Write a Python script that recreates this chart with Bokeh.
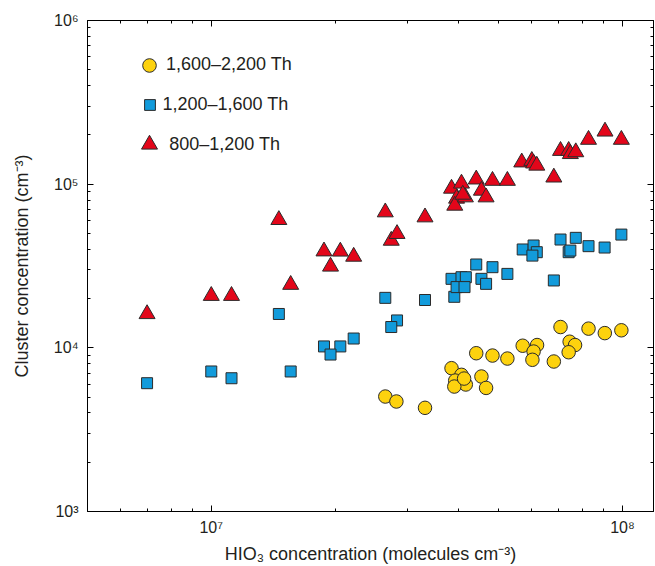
from bokeh.plotting import figure
from bokeh.models import (LogAxis, Legend, LegendItem, CustomJSTickFormatter, Range1d,
                          FixedTicker)
from bokeh.embed import file_html
from bokeh.resources import INLINE

# ---- data ----
circ_x = [2.65e7, 2.82e7, 3.31e7, 3.84e7, 4.06e7, 3.92e7, 4.16e7, 3.90e7, 4.54e7, 4.66e7,
          4.41e7, 4.83e7, 5.25e7, 5.72e7, 6.20e7, 6.08e7, 6.04e7, 6.81e7, 7.07e7, 7.44e7,
          7.67e7, 7.40e7, 8.27e7, 9.06e7, 9.94e7, 4.12e7]
circ_y = [5.04e3, 4.70e3, 4.30e3, 7.51e3, 6.84e3, 6.31e3, 5.97e3, 5.80e3, 6.68e3, 5.69e3,
          9.27e3, 8.97e3, 8.60e3, 1.03e4, 1.04e4, 9.49e3, 8.45e3, 8.25e3, 1.34e4, 1.09e4,
          1.04e4, 9.40e3, 1.31e4, 1.23e4, 1.28e4, 6.49e3]

sq_x = [6.98e6, 1.00e7, 1.12e7, 1.46e7, 1.56e7, 1.88e7, 2.06e7, 1.95e7, 2.22e7, 2.65e7,
        2.83e7, 2.74e7, 3.31e7, 3.90e7, 3.84e7, 4.06e7, 4.16e7, 3.95e7, 4.13e7, 4.41e7,
        4.54e7, 4.66e7, 4.83e7, 5.25e7, 5.72e7, 6.08e7, 6.19e7, 6.04e7, 6.81e7, 7.07e7,
        7.70e7, 7.40e7, 7.47e7, 8.27e7, 9.05e7, 9.94e7]
sq_y = [6.08e3, 7.17e3, 6.52e3, 1.61e4, 7.17e3, 1.02e4, 1.02e4, 9.10e3, 1.14e4, 2.02e4,
        1.47e4, 1.34e4, 1.96e4, 2.05e4, 2.64e4, 2.70e4, 2.70e4, 2.35e4, 2.35e4, 3.23e4,
        2.64e4, 2.46e4, 3.11e4, 2.83e4, 3.99e4, 4.22e4, 3.84e4, 3.66e4, 2.58e4, 4.59e4,
        4.70e4, 3.84e4, 3.93e4, 4.18e4, 4.10e4, 4.92e4]

tri_x = [6.98e6, 1.00e7, 1.12e7, 1.46e7, 1.56e7, 1.88e7, 2.06e7, 1.95e7, 2.22e7, 2.65e7,
         2.74e7, 2.83e7, 3.31e7, 3.84e7, 4.06e7, 3.95e7, 3.91e7, 4.15e7, 4.09e7, 4.41e7,
         4.54e7, 4.66e7, 4.83e7, 5.25e7, 5.69e7, 6.02e7, 6.08e7, 6.19e7, 6.81e7, 7.07e7,
         7.40e7, 7.47e7, 7.70e7, 8.27e7, 9.07e7, 9.94e7]
tri_y = [1.61e4, 2.08e4, 2.08e4, 6.05e4, 2.43e4, 3.89e4, 3.88e4, 3.14e4, 3.61e4, 6.74e4,
         4.52e4, 4.97e4, 6.28e4, 9.40e4, 1.01e5, 8.17e4, 7.40e4, 8.32e4, 8.64e4, 1.07e5,
         9.14e4, 8.32e4, 1.05e5, 1.05e5, 1.36e5, 1.39e5, 1.34e5, 1.30e5, 1.10e5, 1.60e5,
         1.60e5, 1.53e5, 1.57e5, 1.87e5, 2.10e5, 1.87e5]

labels = ["1,600\u20132,200 Th", "1,200\u20131,600 Th", "800\u20131,200 Th"]
x_label = "HIO\u2083 concentration (molecules cm\u207b\u00b3)"
y_label = "Cluster concentration (cm\u207b\u00b3)"

x_major = [1e7, 1e8]
x_minor = [6e6, 7e6, 8e6, 9e6, 2e7, 3e7, 4e7, 5e7, 6e7, 7e7, 8e7, 9e7]
y_major = [1e3, 1e4, 1e5, 1e6]
y_minor = [2e3, 3e3, 4e3, 5e3, 6e3, 7e3, 8e3, 9e3,
           2e4, 3e4, 4e4, 5e4, 6e4, 7e4, 8e4, 9e4,
           2e5, 3e5, 4e5, 5e5, 6e5, 7e5, 8e5, 9e5]

FONT = "Liberation Sans"
YELLOW = "#FDD20E"
BLUE = "#129BDB"
RED = "#E3061A"
EDGE = "#2b2b2b"
TEXT = "#231F20"

p = figure(width=655, height=566, x_axis_type="log", y_axis_type="log",
           x_range=Range1d(5e6, 1.19e8), y_range=Range1d(1e3, 1e6),
           output_backend="svg", toolbar_location=None,
           min_border_left=87, min_border_top=20, min_border_right=2, min_border_bottom=55)
p.xgrid.visible = False
p.ygrid.visible = False
p.outline_line_color = "black"
p.outline_line_width = 1
p.background_fill_color = "white"
p.border_fill_color = "white"

fmt_code = """
const sup = {"0":"\u2070","1":"\u00b9","2":"\u00b2","3":"\u00b3","4":"\u2074","5":"\u2075","6":"\u2076","7":"\u2077","8":"\u2078","9":"\u2079","-":"\u207b"};
const e = Math.round(Math.log10(tick));
return "10" + String(e).split("").map(c => sup[c]).join("");
"""

xt = FixedTicker(ticks=x_major, minor_ticks=x_minor)
yt = FixedTicker(ticks=y_major, minor_ticks=y_minor)

def style_axis(ax, ticker, labels_on=True):
    ax.ticker = ticker
    ax.axis_line_color = "black"
    ax.major_tick_line_color = "black"
    ax.minor_tick_line_color = "black"
    ax.major_tick_in = 6
    ax.major_tick_out = 0
    ax.minor_tick_in = 3
    ax.minor_tick_out = 0
    if labels_on:
        ax.formatter = CustomJSTickFormatter(code=fmt_code)
        ax.major_label_text_font = FONT
        ax.major_label_text_font_size = "16px"
        ax.major_label_text_color = TEXT
        ax.axis_label_text_font = FONT
        ax.axis_label_text_font_size = "18px"
        ax.axis_label_text_font_style = "normal"
        ax.axis_label_text_color = TEXT
    else:
        ax.formatter = CustomJSTickFormatter(code="return ''")
        ax.major_label_text_font_size = "0px"
        ax.major_label_standoff = 0

style_axis(p.xaxis[0], xt)
style_axis(p.yaxis[0], yt)
p.xaxis[0].axis_label = x_label
p.yaxis[0].axis_label = y_label
p.xaxis[0].major_label_standoff = 7
p.yaxis[0].major_label_standoff = 9
p.xaxis[0].axis_label_standoff = 5
p.yaxis[0].axis_label_standoff = 19

top = LogAxis()
right = LogAxis()
style_axis(top, xt, False)
style_axis(right, yt, False)
p.add_layout(top, "above")
p.add_layout(right, "right")

r_tri = p.scatter(tri_x, tri_y, marker="triangle", size=16, fill_color=RED,
                  line_color=EDGE, line_width=1)
r_sq = p.scatter(sq_x, sq_y, marker="square", size=11, fill_color=BLUE,
                 line_color=EDGE, line_width=1)
r_circ = p.scatter(circ_x, circ_y, marker="circle", size=13.5, fill_color=YELLOW,
                   line_color=EDGE, line_width=1)

def make_legend(label, r, g, standoff, loc):
    lg = Legend(items=[LegendItem(label=label, renderers=[r])], location=loc,
                glyph_width=g, glyph_height=g, label_standoff=standoff,
                padding=0, margin=0, spacing=0,
                border_line_alpha=0, background_fill_alpha=0,
                label_text_font=FONT, label_text_font_size="18px",
                label_text_color=TEXT)
    p.add_layout(lg, "center")

make_legend(labels[0], r_circ, 34, -4, (45.0, 429.5))
make_legend(labels[1], r_sq, 27, 0, (48.5, 393.0))
make_legend(labels[2], r_tri, 40, -6, (42.3, 347.0))

open("out.html", "w").write(file_html(p, INLINE))
